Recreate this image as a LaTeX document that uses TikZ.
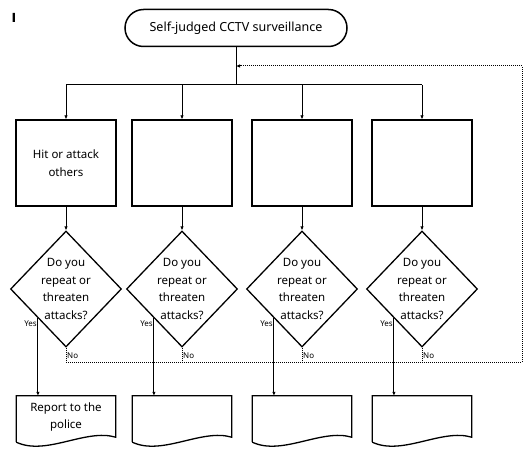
\documentclass[tikz,border=0pt]{standalone}
\usepackage{fontspec}
\setmainfont{Noto Sans}
\newfontfamily\markfont{DejaVu Sans}
\usepackage{tikz}
\usetikzlibrary{shapes.geometric, shapes.misc}
\usetikzlibrary{arrows.meta, positioning}

\begin{document}
\begin{tikzpicture}[
        x=1pt, y=-1pt,
        every node/.style={font=\fontsize{11.5}{17.5}\selectfont},
        start/.style={
          rounded rectangle,
          draw,
          line width=1.5pt,
          minimum width=222pt,
          minimum height=37pt,
          inner sep=0pt,
          font=\fontsize{12.5}{15}\selectfont
        },
        action/.style={
          rectangle,
          draw,
          line width=1.3pt,
          minimum width=100pt,
          minimum height=86pt,
          align=center,
          inner sep=2pt
        },
        question/.style={
          diamond,
          draw,
          line width=1.3pt,
          minimum width=111pt,
          minimum height=116pt,
          inner sep=-3pt,
          align=center
        },
        outcome/.style={
          rectangle,
          minimum width=99pt,
          minimum height=42pt,
          align=center,
          inner sep=0pt
        },
        arrow/.style={
          -{Latex[length=4pt,width=3.5pt]},
          line width=1pt
        },
        feedback/.style={
          densely dotted,
          line width=1pt
        },
        tag/.style={
          font=\fontsize{8}{9}\selectfont,
          inner sep=1pt
        }
      ]

      \useasboundingbox (0,0) rectangle (526,449);

      % Entities
      \node[font=\markfont\bfseries\fontsize{12.5}{12.5}\selectfont] (mark) at (14,18) {I};
      \node[start] (start) at (236,28) {Self-judged CCTV surveillance};

      \foreach \i/\x/\act/\res in {1/66/{Hit or attack\\others}/{Report to the\\police},
                                   2/182//, 3/302//, 4/422//} {
        \node[action] (a\i) at (\x,163) {\act};
        \node[question] (q\i) at (\x,289) {Do you\\repeat or\\threaten\\attacks?};
        \node[outcome] (d\i) at (\x,417) {\res};
        % Document outline
        \draw[line width=1.3pt] ([yshift=-4pt]d\i.south west) -- (d\i.north west)
          -- (d\i.north east) -- ([yshift=1pt]d\i.south east)
          .. controls +(-30pt,9pt) and +(30pt,-14pt) .. ([yshift=-4pt]d\i.south west);
      }

      % Junctions
      \coordinate (hub) at (236,85);
      \coordinate (back) at (236,66);
      \coordinate (corner) at (522,66);
      \coordinate (floor) at (522,362);

      % Flow
      \draw[line width=1pt] (start) -- (hub);
      \draw[line width=1pt] (hub -| a1.north) -- (hub -| a4.north);
      \foreach \i in {1,...,4} {
        \draw[arrow] (hub -| a\i.north) -- (a\i);
        \draw[arrow] (a\i) -- (q\i);
        \draw[arrow] (q\i.south west) -- (q\i.south west |- d\i.north);
        \node[tag, anchor=north east] (yes\i) at ([yshift=-1pt]q\i.south west) {Yes};
        \draw[feedback] (q\i.south) -- (q\i.south |- floor);
        \node[tag, anchor=west] (no\i) at ([yshift=-8pt]q\i.south) {No};
      }

      % Loop back
      \draw[feedback, -{Latex[length=4pt,width=3.5pt]}] (q1.south |- floor) -- (floor)
        -- (corner) -- (back);

    \end{tikzpicture}
\end{document}
